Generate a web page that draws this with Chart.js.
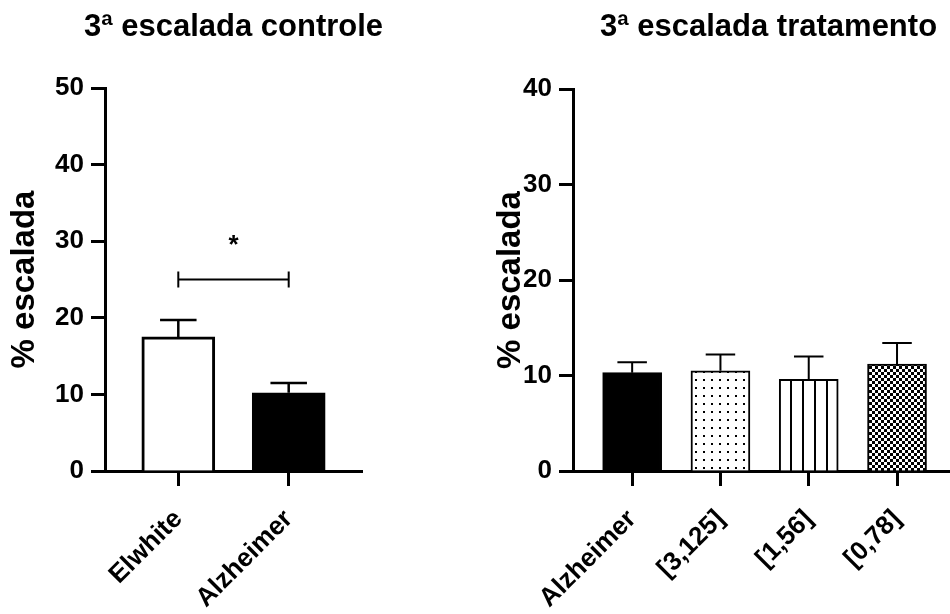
<!DOCTYPE html>
<html>
<head>
<meta charset="utf-8">
<script src="https://cdn.jsdelivr.net/npm/chart.js@4.4.1/dist/chart.umd.min.js"></script>
<style>
  html, body { margin: 0; padding: 0; background: #fff; overflow: hidden; }
  #wrap { position: relative; width: 950px; height: 614px; }
  .panel { position: absolute; top: 0; width: 475px; height: 614px; }
</style>
</head>
<body>
<div id="wrap">
  <div class="panel" style="left:0"><canvas id="controlChart" width="475" height="614"></canvas></div>
  <div class="panel" style="left:475px"><canvas id="treatChart" width="475" height="614"></canvas></div>
</div>
<script>
// control group
const controlLabels = ['Elwhite', 'Alzheimer'];
const controlMeans = [17.5, 10.2];
const controlErrors = [2.2, 1.3];
const controlTicks = [0, 10, 20, 30, 40, 50];

// treatment group
const treatLabels = ['Alzheimer', '[3,125]', '[1,56]', '[0,78]'];
const treatMeans = [10.3, 10.5, 9.6, 11.2];
const treatErrors = [1.1, 1.7, 2.4, 2.2];
const treatTicks = [0, 10, 20, 30, 40];

// significance bracket between Elwhite and Alzheimer
const sigPair = [0, 1];
const sigLevel = 25;
const sigText = '*';

const FONT = "'Liberation Sans', Arial, sans-serif";
const tickFont = { family: FONT, size: 26, weight: 'bold' };
const titleFont = { family: FONT, size: 31, weight: 'bold' };
const axisTitleFont = { family: FONT, size: 33, weight: 'bold' };

// fill patterns for the treatment bars
function makePattern(w, h, draw) {
  const c = document.createElement('canvas');
  c.width = w; c.height = h;
  const g = c.getContext('2d');
  g.fillStyle = '#fff';
  g.fillRect(0, 0, w, h);
  g.fillStyle = '#000';
  draw(g);
  return document.getElementById('treatChart').getContext('2d').createPattern(c, 'repeat');
}
const dots = makePattern(8, 8, g => g.fillRect(3, 3, 2, 2));
const stripes = makePattern(12, 12, g => g.fillRect(10, 0, 2, 12));
const checks = makePattern(6, 6, g => { g.fillRect(0, 0, 3, 3); g.fillRect(3, 3, 3, 3); });

// line patterns up with each bar's left edge
const alignPatterns = {
  id: 'alignPatterns',
  beforeDatasetsDraw(chart) {
    const meta = chart.getDatasetMeta(0);
    const bg = chart.data.datasets[0].backgroundColor;
    meta.data.forEach((bar, i) => {
      const p = Array.isArray(bg) ? bg[i] : bg;
      if (p instanceof CanvasPattern) {
        p.setTransform(new DOMMatrix([1, 0, 0, 1, Math.round(bar.x - bar.width / 2) + 1, 0]));
      }
    });
  }
};

// panel heading, centred over the plot area
const panelTitle = {
  id: 'panelTitle',
  afterDraw(chart, args, opts) {
    const { ctx, chartArea } = chart;
    ctx.save();
    ctx.fillStyle = '#000';
    ctx.font = 'bold ' + titleFont.size + 'px ' + FONT;
    ctx.textAlign = 'center';
    ctx.textBaseline = 'middle';
    ctx.fillText(opts.text, (chartArea.left + chartArea.right) / 2 + (opts.shift || 0), 27);
    ctx.restore();
  }
};

// upper error whiskers (mean + SEM)
const errorBars = {
  id: 'errorBars',
  afterDatasetsDraw(chart) {
    const ctx = chart.ctx;
    const y = chart.scales.y;
    const ds = chart.data.datasets[0];
    const meta = chart.getDatasetMeta(0);
    ctx.save();
    ctx.strokeStyle = '#000';
    ctx.lineWidth = ds.errorWidth;
    meta.data.forEach((bar, i) => {
      const top = y.getPixelForValue(ds.data[i].y + ds.errors[i]);
      const half = bar.width / 4;
      ctx.beginPath();
      ctx.moveTo(bar.x, bar.y);
      ctx.lineTo(bar.x, top);
      ctx.moveTo(bar.x - half, top);
      ctx.lineTo(bar.x + half, top);
      ctx.stroke();
    });
    ctx.restore();
  }
};

// bracket with asterisk over the two control bars
const sigBracket = {
  id: 'sigBracket',
  afterDatasetsDraw(chart) {
    const { ctx, scales: { x, y } } = chart;
    const x0 = x.getPixelForValue(sigPair[0]);
    const x1 = x.getPixelForValue(sigPair[1]);
    const yy = y.getPixelForValue(sigLevel);
    ctx.save();
    ctx.strokeStyle = '#000';
    ctx.lineWidth = 2;
    ctx.beginPath();
    ctx.moveTo(x0, yy); ctx.lineTo(x1, yy);
    ctx.moveTo(x0, yy - 8); ctx.lineTo(x0, yy + 8);
    ctx.moveTo(x1, yy - 8); ctx.lineTo(x1, yy + 8);
    ctx.stroke();
    ctx.fillStyle = '#000';
    ctx.font = 'bold 26px ' + FONT;
    ctx.textAlign = 'center';
    ctx.textBaseline = 'middle';
    ctx.fillText(sigText, (x0 + x1) / 2, yy - 34);
    ctx.restore();
  }
};

function scalesFor(labels, ticks, xMin, xMax, yWidth, titlePad) {
  const axisLine = { display: true, color: '#000', width: 3 };
  return {
    x: {
      type: 'linear',
      offset: false,
      min: xMin,
      max: xMax,
      afterBuildTicks: s => { s.ticks = labels.map((_, i) => ({ value: i })); },
      afterFit: s => { s.height = 143; },
      grid: { offset: false, drawOnChartArea: false, drawTicks: true, tickLength: 15, tickWidth: 3, tickColor: '#000' },
      border: axisLine,
      ticks: {
        minRotation: 45, maxRotation: 45, padding: 18, color: '#000', font: tickFont,
        callback: v => labels[v]
      }
    },
    y: {
      min: ticks[0],
      max: ticks[ticks.length - 1],
      afterBuildTicks: s => { s.ticks = ticks.map(v => ({ value: v })); },
      afterFit: s => { s.width = yWidth; },
      grid: { drawOnChartArea: false, drawTicks: true, tickLength: 14, tickWidth: 3, tickColor: '#000' },
      border: axisLine,
      ticks: { padding: 7, color: '#000', font: tickFont },
      title: {
        display: true, text: '% escalada', color: '#000', font: axisTitleFont,
        padding: { top: titlePad, bottom: 0 }
      }
    }
  };
}

function pluginOpts(title, shift) {
  return {
    legend: { display: false },
    tooltip: { enabled: false },
    panelTitle: { text: title, shift: shift }
  };
}

new Chart(document.getElementById('controlChart'), {
  type: 'bar',
  data: {
    datasets: [{
      data: controlMeans.map((v, i) => ({ x: i, y: v })),
      errors: controlErrors,
      errorWidth: 2.5,
      backgroundColor: ['#fff', '#000'],
      borderColor: '#000',
      borderWidth: 3,
      barThickness: 73
    }]
  },
  options: {
    responsive: false,
    animation: false,
    layout: { padding: { left: 0, right: 113, top: 88, bottom: 0 } },
    scales: scalesFor(controlLabels, controlTicks, -0.664, 1.664, 105, 5.2),
    plugins: pluginOpts('3ª escalada controle', 0)
  },
  plugins: [errorBars, sigBracket, panelTitle]
});

new Chart(document.getElementById('treatChart'), {
  type: 'bar',
  data: {
    datasets: [{
      data: treatMeans.map((v, i) => ({ x: i, y: v })),
      errors: treatErrors,
      errorWidth: 2,
      backgroundColor: ['#000', dots, stripes, checks],
      borderColor: '#000',
      borderWidth: 2,
      barThickness: 59
    }]
  },
  options: {
    responsive: false,
    animation: false,
    layout: { padding: { left: 0, right: 0, top: 89, bottom: 0 } },
    scales: scalesFor(treatLabels, treatTicks, -0.67, 3.6, 98, 16.2),
    plugins: pluginOpts('3ª escalada tratamento', 7)
  },
  plugins: [alignPatterns, errorBars, panelTitle]
});
</script>
</body>
</html>
